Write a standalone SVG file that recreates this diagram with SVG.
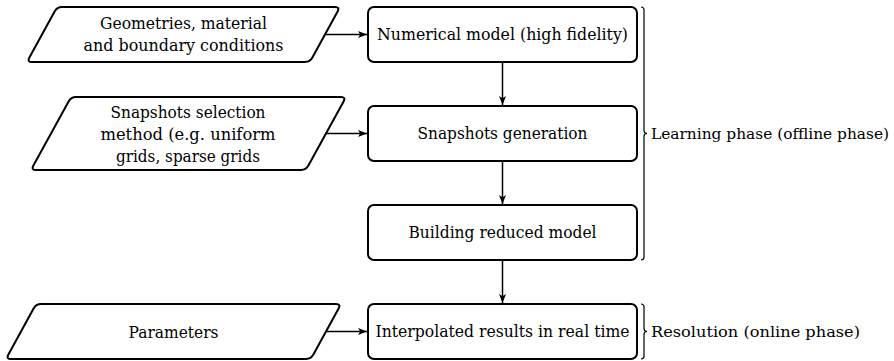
<svg xmlns="http://www.w3.org/2000/svg" width="894" height="361" viewBox="0 0 894 361">
  <defs>
    <marker id="arr" markerUnits="userSpaceOnUse" markerWidth="10" markerHeight="10" refX="9" refY="4" orient="auto">
      <path d="M0,0.5 L9,4 L0,7.5 L2.2,4 Z" fill="#000"/>
    </marker>
    <style>
      .box { fill: #fff; stroke: #000; stroke-width: 2; }
      .io { fill: #fff; stroke: #000; stroke-width: 2; stroke-linejoin: round; }
      .edge { fill: none; stroke: #000; stroke-width: 1.5; marker-end: url(#arr); }
      .brace { fill: none; stroke: #000; stroke-width: 1.2; }
      text { font-family: 'DejaVu Serif', 'Liberation Serif', 'Noto Serif', Times, serif; font-size: 16.5px; fill: #000; }
      .c { text-anchor: middle; }
      .phase { font-size: 15.4px; }
    </style>
  </defs>

  <g id="connectors">
    <path class="edge" d="M325,34.5 L367,34.5"/>
    <path class="edge" d="M326,133.5 L367,133.5"/>
    <path class="edge" d="M326,331.5 L367,331.5"/>
    <path class="edge" d="M502.5,62 L502.5,105"/>
    <path class="edge" d="M502.5,161 L502.5,204"/>
    <path class="edge" d="M502.5,260 L502.5,303"/>
  </g>

  <g id="input-geometries">
    <path class="io" d="M62,7 L335,7 Q340,7 337.6,11.4 L312.4,57.6 Q310,62 305,62 L32,62 Q27,62 29.4,57.6 L54.6,11.4 Q57,7 62,7 Z"/>
    <text class="c" x="183.5" y="28.5" textLength="167" lengthAdjust="spacingAndGlyphs">Geometries, material</text>
    <text class="c" x="183.5" y="50.5" textLength="200" lengthAdjust="spacingAndGlyphs">and boundary conditions</text>
  </g>

  <g id="input-snapshots">
    <path class="io" d="M76,97 L341,97 Q346,97 343.6,101.4 L308.4,165.6 Q306,170 301,170 L36,170 Q31,170 33.4,165.6 L68.6,101.4 Q71,97 76,97 Z"/>
    <text class="c" x="188" y="117.5" textLength="155" lengthAdjust="spacingAndGlyphs">Snapshots selection</text>
    <text class="c" x="188" y="139.5" textLength="175" lengthAdjust="spacingAndGlyphs">method (e.g. uniform</text>
    <text class="c" x="188" y="161.5" textLength="144" lengthAdjust="spacingAndGlyphs">grids, sparse grids</text>
  </g>

  <g id="input-parameters">
    <path class="io" d="M41,304 L336,304 Q341,304 338.6,308.4 L313.4,354.6 Q311,359 306,359 L11,359 Q6,359 8.4,354.6 L33.6,308.4 Q36,304 41,304 Z"/>
    <text class="c" x="173.5" y="337.5" textLength="90" lengthAdjust="spacingAndGlyphs">Parameters</text>
  </g>

  <g id="numerical-model">
    <rect class="box" x="368" y="7" width="269" height="55" rx="6"/>
    <text class="c" x="502.5" y="40" textLength="251" lengthAdjust="spacingAndGlyphs">Numerical model (high fidelity)</text>
  </g>

  <g id="snapshots-generation">
    <rect class="box" x="368" y="106" width="269" height="55" rx="6"/>
    <text class="c" x="502.5" y="139" textLength="170" lengthAdjust="spacingAndGlyphs">Snapshots generation</text>
  </g>

  <g id="building-reduced-model">
    <rect class="box" x="368" y="205" width="269" height="55" rx="6"/>
    <text class="c" x="502.5" y="238" textLength="188" lengthAdjust="spacingAndGlyphs">Building reduced model</text>
  </g>

  <g id="interpolated-results">
    <rect class="box" x="368" y="304" width="269" height="55" rx="6"/>
    <text class="c" x="502.5" y="337" textLength="254" lengthAdjust="spacingAndGlyphs">Interpolated results in real time</text>
  </g>

  <g id="learning-phase">
    <path class="brace" d="M641,7 Q644,7 644,10 L644,130.5 Q644,133.5 647,133.5 Q644,133.5 644,136.5 L644,257 Q644,260 641,260"/>
    <text class="phase" x="651" y="139" textLength="238" lengthAdjust="spacingAndGlyphs">Learning phase (offline phase)</text>
  </g>

  <g id="resolution-phase">
    <path class="brace" d="M641,304 Q644,304 644,307 L644,328.5 Q644,331.5 647,331.5 Q644,331.5 644,334.5 L644,356 Q644,359 641,359"/>
    <text class="phase" x="651" y="337" textLength="209" lengthAdjust="spacingAndGlyphs">Resolution (online phase)</text>
  </g>
</svg>
